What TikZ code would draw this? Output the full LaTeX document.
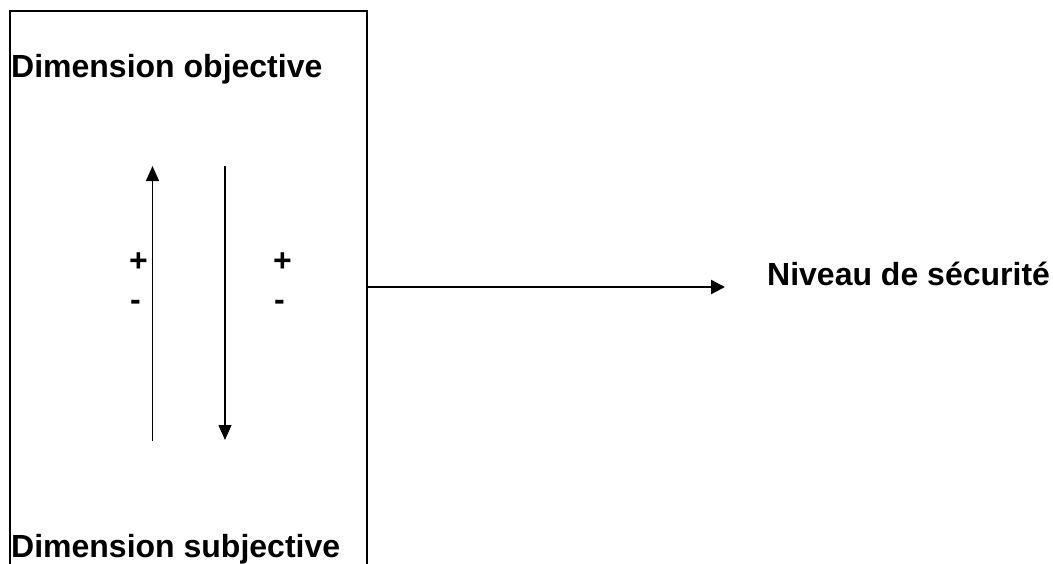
\documentclass[tikz,border=0pt]{standalone}
\usepackage{fontspec}
\setmainfont{Liberation Sans}
\usetikzlibrary{arrows.meta}
\begin{document}
\begin{tikzpicture}[x=1pt,y=-1pt,
  lbl/.style={inner sep=0pt,anchor=base west,font=\fontsize{32}{38}\selectfont\bfseries},
  thinarrow/.style={line width=1.3pt,-{Triangle[length=15pt,width=13pt]}},
  thickarrow/.style={line width=2.3pt,-{Triangle[length=14pt,width=14pt]}},
  boxline/.style={line width=2.3pt}]
\useasboundingbox (0,0) rectangle (1053,563);
% box (open at the bottom)
\coordinate (bl) at (10,565);
\coordinate (tl) at (10,11);
\coordinate (tr) at (367,11);
\coordinate (br) at (367,565);
\draw[boxline] (bl) -- (tl) -- (tr) -- (br);
% texts
\node[lbl] (obj) at (11,77) {Dimension objective};
\node[lbl] (subj) at (11,557) {Dimension subjective};
\node[lbl] (niv) at (767,285) {Niveau de sécurité};
\node[lbl] (p1) at (129,271) {+};
\node[lbl] (m1) at (130,310) {-};
\node[lbl] (p2) at (273,271) {+};
\node[lbl] (m2) at (274,310) {-};
% vertical arrows
\coordinate (u0) at (152.5,441);
\coordinate (u1) at (152.5,166);
\coordinate (d0) at (225,166);
\coordinate (d1) at (225,440);
\draw[thinarrow] (u0) -- (u1);
\draw[thinarrow] (d0) -- (d1);
% horizontal arrow
\coordinate (h0) at (367,287);
\coordinate (h1) at (725,287);
\draw[thickarrow] (h0) -- (h1);
\end{tikzpicture}
\end{document}
